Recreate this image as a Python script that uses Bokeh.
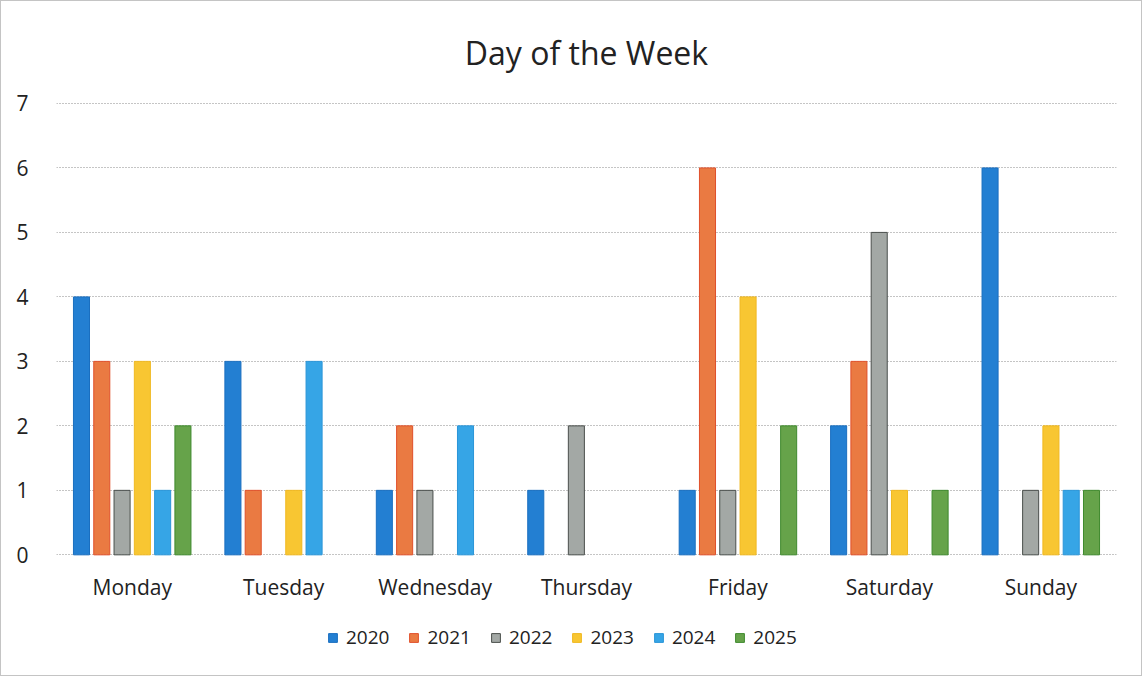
from bokeh.plotting import figure
from bokeh.models import ColumnDataSource, FactorRange, Legend, LegendItem, Range1d
from bokeh.core.properties import value
from bokeh.transform import dodge
from bokeh.embed import file_html
from bokeh.resources import INLINE

days = ["Monday", "Tuesday", "Wednesday", "Thursday", "Friday", "Saturday", "Sunday"]
years = ["2020", "2021", "2022", "2023", "2024", "2025"]
v2020 = [4, 3, 1, 1, 1, 2, 6]
v2021 = [3, 1, 2, 0, 6, 3, 0]
v2022 = [1, 0, 1, 2, 1, 5, 1]
v2023 = [3, 1, 0, 0, 4, 1, 2]
v2024 = [1, 3, 2, 0, 0, 0, 1]
v2025 = [2, 0, 0, 0, 2, 1, 1]
y_ticks = [0, 1, 2, 3, 4, 5, 6, 7]

colors = ["#237fd2", "#ea7a42", "#a3a8a5", "#f8c632", "#36a5e6", "#66a34a"]
outlines = ["#1a6fc0", "#e0502a", "#4a4f4c", "#f0b820", "#2a95d8", "#3f8a2e"]
series = [v2020, v2021, v2022, v2023, v2024, v2025]

data = dict(day=days, label_y=[-0.5] * len(days))
for yr, vals, oc in zip(years, series, outlines):
    data["y" + yr] = vals
    data["lc" + yr] = [oc if v > 0 else None for v in vals]
src = ColumnDataSource(data)

FONT = "Open Sans"
p = figure(x_range=FactorRange(*days), y_range=Range1d(-1.747, 7.03), width=1142, height=676,
           output_backend="svg", toolbar_location=None,
           min_border_left=55, min_border_right=27, min_border_top=98, min_border_bottom=10)

p.title.text = "Day of the Week"
p.title.align = "center"
p.title.text_font = FONT
p.title.text_font_style = "normal"
p.title.text_font_size = "32px"
p.title.text_color = "#222222"
p.title.offset = 27
p.title.standoff = 55

spacing = 0.134
items = []
for i, yr in enumerate(years):
    off = (i - 2.5) * spacing
    r = p.vbar(x=dodge("day", off, range=p.x_range), top="y" + yr, bottom=0, width=0.106, source=src,
               fill_color=colors[i], line_color="lc" + yr, line_width=1)
    items.append(LegendItem(label=yr, renderers=[r]))

# category labels under the bars
p.text(x="day", y="label_y", text="day", source=src, text_font=value(FONT),
       text_font_size="21px", text_color="#222222", text_align="center", text_baseline="middle")

legend = Legend(items=items, orientation="horizontal", location=(271, 17),
                label_text_font=FONT, label_text_font_size="19px", label_text_color="#222222",
                glyph_width=11, glyph_height=11, spacing=19, label_standoff=8, label_height=20,
                border_line_color=None, background_fill_alpha=0, padding=0, margin=0)
p.add_layout(legend, "center")

p.xaxis.visible = False
p.yaxis.ticker = y_ticks
p.yaxis.axis_line_color = None
p.yaxis.major_tick_line_color = None
p.yaxis.minor_tick_line_color = None
p.yaxis.major_label_text_font = FONT
p.yaxis.major_label_text_font_size = "21px"
p.yaxis.major_label_text_color = "#222222"
p.yaxis.major_label_standoff = 22

p.xgrid.grid_line_color = None
p.ygrid.ticker = y_ticks
p.ygrid.grid_line_color = "#8a8a8a"
p.ygrid.grid_line_dash = "1 2"
p.ygrid.grid_line_width = 1.2
p.outline_line_color = None
p.styles = {"border": "1px solid #c4c4c4"}

open("out.html", "w").write(file_html(p, INLINE))
